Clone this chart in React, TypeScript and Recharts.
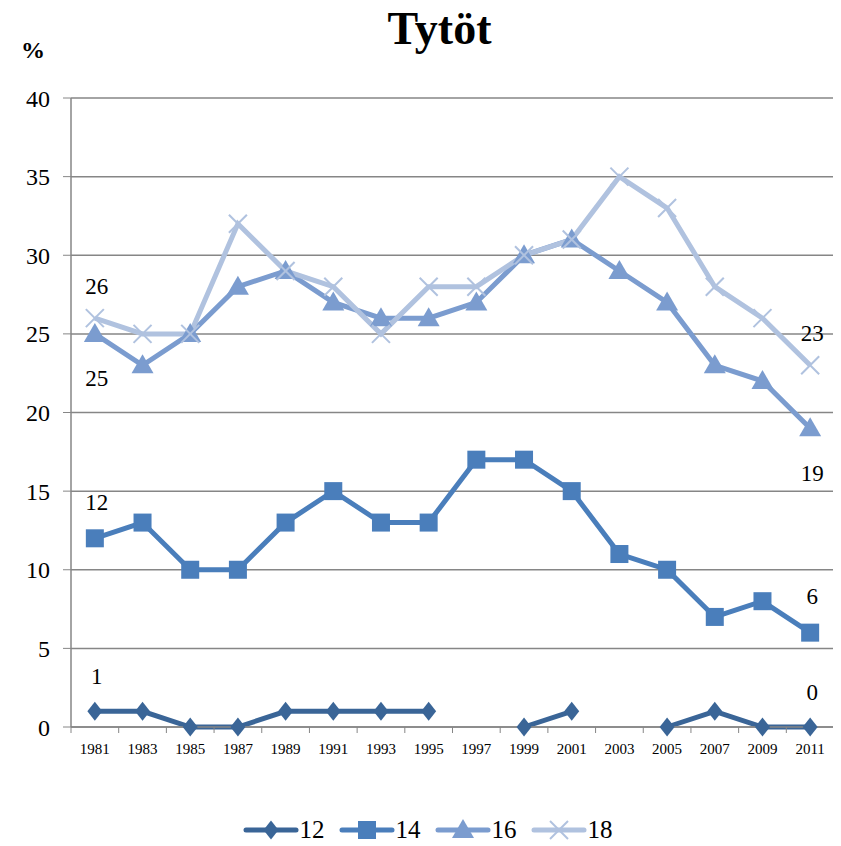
import React from 'react';
import { LineChart, Line, XAxis, YAxis, CartesianGrid, Legend, LabelList } from 'recharts';

const years = ['1981', '1983', '1985', '1987', '1989', '1991', '1993', '1995', '1997', '1999', '2001', '2003', '2005', '2007', '2009', '2011'];
const age12 = [1, 1, 0, 0, 1, 1, 1, 1, null, 0, 1, null, 0, 1, 0, 0];
const age14 = [12, 13, 10, 10, 13, 15, 13, 13, 17, 17, 15, 11, 10, 7, 8, 6];
const age16 = [25, 23, 25, 28, 29, 27, 26, 26, 27, 30, 31, 29, 27, 23, 22, 19];
const age18 = [26, 25, 25, 32, 29, 28, 25, 28, 28, 30, 31, 35, 33, 28, 26, 23];
const yTicks = [0, 5, 10, 15, 20, 25, 30, 35, 40];

const data = years.map((year, i) => ({
    year,
    a12: age12[i],
    a14: age14[i],
    a16: age16[i],
    a18: age18[i],
}));

const C12 = '#3A6597';
const C14 = '#4A7EBB';
const C16 = '#7B9CCF';
const C18 = '#B0C2DF';

const W = 833;
const H = 838;
const MARGIN = { top: 90, right: 7, left: 13, bottom: 51 };
const Y_W = 50;
const BAND = (W - MARGIN.left - MARGIN.right - Y_W) / years.length;
const FONT = 'Liberation Serif, Times New Roman, serif';

const Marker = ({ kind, cx, cy, color }: any) => {
    if (cx == null || cy == null) return null;
    if (kind === 'diamond') {
        return <polygon points={`${cx},${cy - 9.5} ${cx + 7.5},${cy} ${cx},${cy + 9.5} ${cx - 7.5},${cy}`} fill={color} />;
    }
    if (kind === 'square') {
        return <rect x={cx - 9} y={cy - 9} width={18} height={18} fill={color} />;
    }
    if (kind === 'triangle') {
        return <polygon points={`${cx},${cy - 11} ${cx + 11},${cy + 8} ${cx - 11},${cy + 8}`} fill={color} />;
    }
    return (
        <g stroke={color} strokeWidth={2}>
            <line x1={cx - 9} y1={cy - 9} x2={cx + 9} y2={cy + 9} />
            <line x1={cx - 9} y1={cy + 9} x2={cx + 9} y2={cy - 9} />
        </g>
    );
};

const dot = (kind: string, color: string) => (props: any) => (
    <Marker key={`${kind}-${props.index}`} kind={kind} cx={props.cx} cy={props.cy} color={color} />
);

const endLabel = (offset: number) => (props: any) => {
    const { x, y, value, index } = props;
    if (index !== 0 && index !== years.length - 1) return null;
    return (
        <text x={x + 2} y={y + offset} textAnchor="middle" dominantBaseline="central"
            fontFamily={FONT} fontSize={23} fill="#000">
            {value}
        </text>
    );
};

const XTick = (props: any) => {
    const { x, y, payload, index } = props;
    return (
        <g>
            <line x1={x - BAND / 2} y1={y - 8} x2={x - BAND / 2} y2={y - 2} stroke="#868686" />
            {index === years.length - 1 && (
                <line x1={x + BAND / 2} y1={y - 8} x2={x + BAND / 2} y2={y - 2} stroke="#868686" />
            )}
            <text x={x} y={y + 19} textAnchor="middle" fontFamily={FONT} fontSize={15} fill="#000">
                {payload.value}
            </text>
        </g>
    );
};

const legendItems = [
    { name: '12', kind: 'diamond', color: C12 },
    { name: '14', kind: 'square', color: C14 },
    { name: '16', kind: 'triangle', color: C16 },
    { name: '18', kind: 'cross', color: C18 },
];

const LegendContent = () => (
    <div style={{ display: 'flex', justifyContent: 'center', gap: 14 }}>
        {legendItems.map((item) => (
            <div key={item.name} style={{ display: 'flex', alignItems: 'center' }}>
                <svg width={56} height={24}>
                    <line x1={3} y1={12} x2={53} y2={12} stroke={item.color} strokeWidth={5} strokeLinecap="round" />
                    <Marker kind={item.kind} cx={28} cy={12} color={item.color} />
                </svg>
                <span style={{ fontFamily: FONT, fontSize: 25, color: '#000', marginLeft: 1 }}>{item.name}</span>
            </div>
        ))}
    </div>
);

const series = [
    { key: 'a12', name: '12', kind: 'diamond', color: C12, offset: -35 },
    { key: 'a14', name: '14', kind: 'square', color: C14, offset: -36 },
    { key: 'a16', name: '16', kind: 'triangle', color: C16, offset: 45 },
    { key: 'a18', name: '18', kind: 'cross', color: C18, offset: -32 },
];

const App = () => {
    return (
        <div style={{ position: 'relative', width: W, height: H, background: '#fff' }}>
            <div style={{ position: 'absolute', left: 0, width: W, top: -6, textAlign: 'center', fontFamily: FONT, fontWeight: 'bold', fontSize: 46, paddingLeft: 30, boxSizing: 'border-box' }}>
                Tytöt
            </div>
            <div style={{ position: 'absolute', left: 13, top: 29, fontFamily: FONT, fontWeight: 'bold', fontSize: 24 }}>
                %
            </div>
            <LineChart width={W} height={H} data={data} margin={MARGIN}>
                <CartesianGrid vertical={false} stroke="#868686" strokeWidth={1.5} />
                <XAxis dataKey="year" scale="band" tick={<XTick />} tickLine={false} axisLine={{ stroke: '#868686', strokeWidth: 1.5 }}
                    interval={0} height={40} />
                <YAxis domain={[0, 40]} ticks={yTicks} width={Y_W} tickSize={8} tickMargin={13}
                    axisLine={{ stroke: '#868686', strokeWidth: 1.5 }} tickLine={{ stroke: '#868686' }}
                    tick={{ fontFamily: FONT, fontSize: 24, fill: '#000' }} />
                <Legend verticalAlign="bottom" wrapperStyle={{ bottom: 2 }} content={<LegendContent />} />
                {series.map((s) => (
                    <Line key={s.key} type="linear" dataKey={s.key} name={s.name} stroke={s.color} strokeWidth={5}
                        dot={dot(s.kind, s.color)} activeDot={false} isAnimationActive={false}>
                        <LabelList dataKey={s.key} content={endLabel(s.offset)} />
                    </Line>
                ))}
            </LineChart>
        </div>
    );
};

export default App;
